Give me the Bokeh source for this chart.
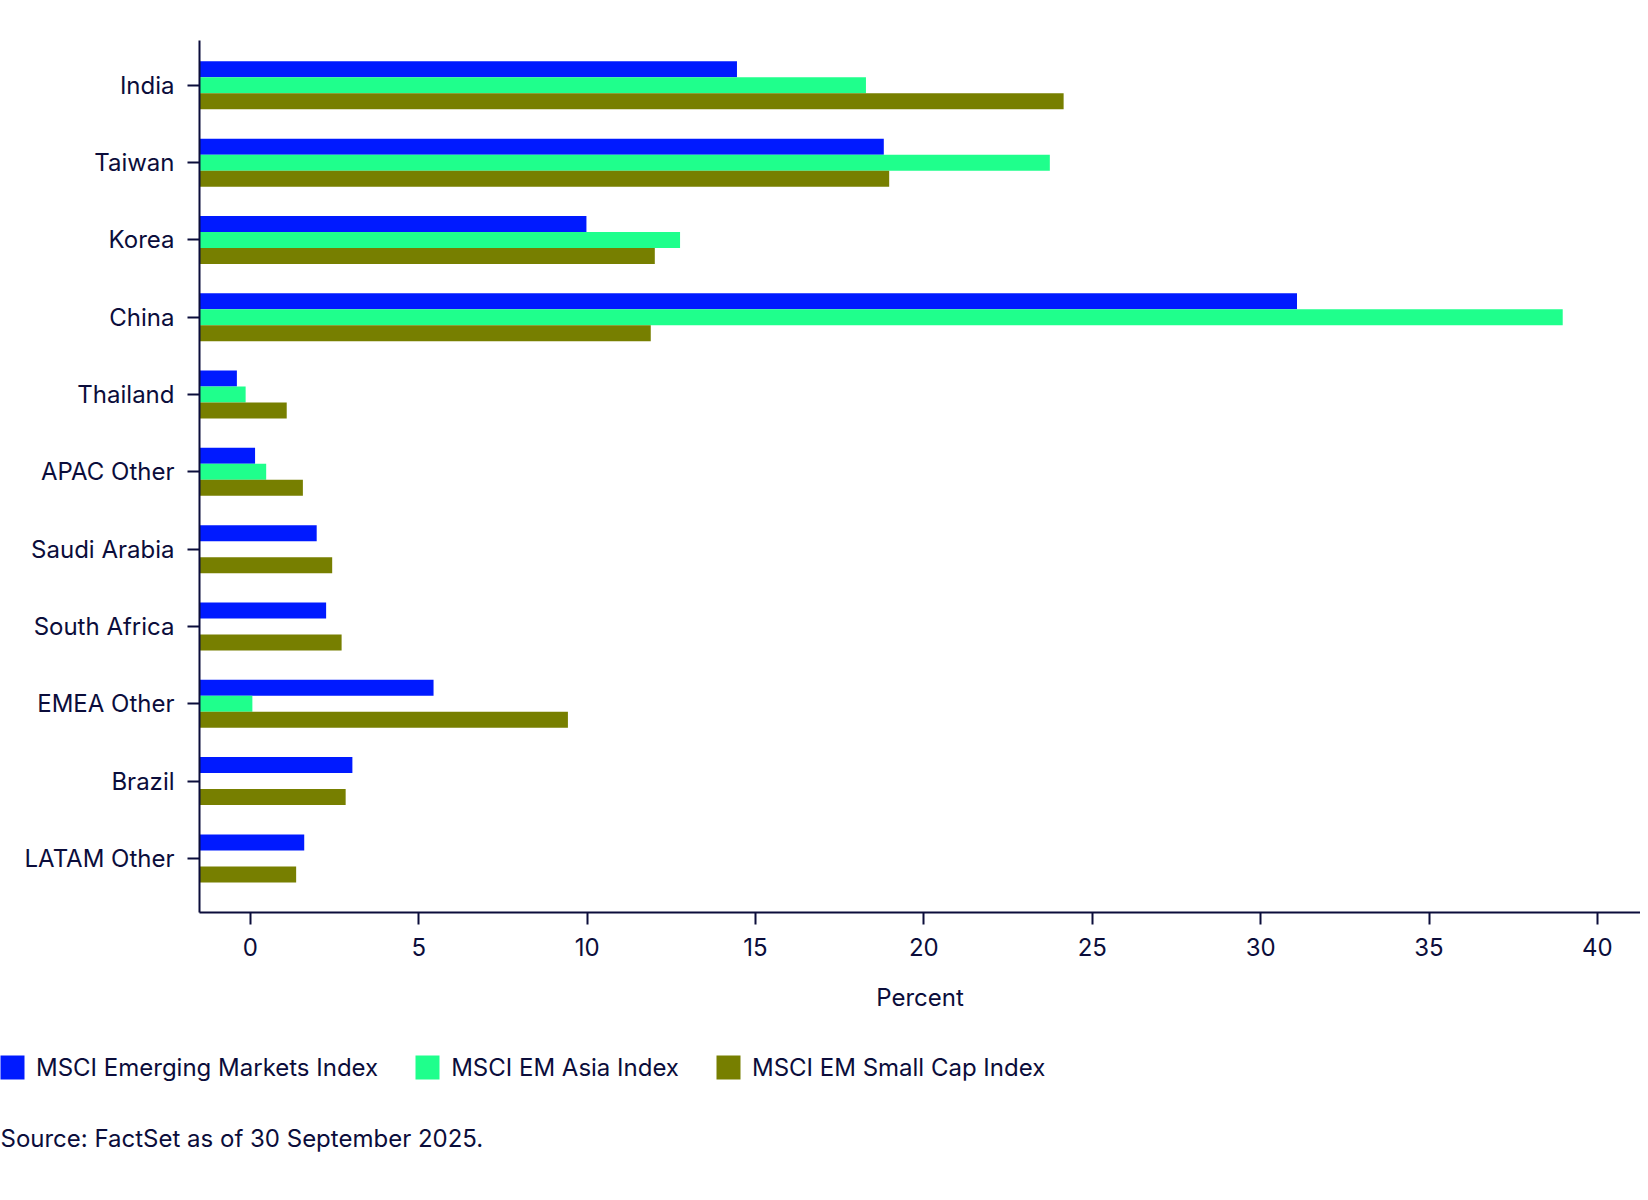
import math
from bokeh.plotting import figure
from bokeh.layouts import column
from bokeh.models import Range1d, FixedTicker, Legend, LegendItem, Label, ColumnDataSource
from bokeh.transform import dodge
from bokeh.embed import file_html
from bokeh.resources import INLINE

nan = float("nan")

categories = ["India", "Taiwan", "Korea", "China", "Thailand", "APAC Other",
              "Saudi Arabia", "South Africa", "EMEA Other", "Brazil", "LATAM Other"]
em_values = [14.45, 18.81, 9.98, 31.08, -0.40, 0.14, 1.97, 2.25, 5.44, 3.03, 1.60]
asia_values = [18.28, 23.74, 12.76, 38.97, -0.14, 0.47, nan, nan, 0.06, nan, nan]
smallcap_values = [24.15, 18.97, 12.01, 11.89, 1.08, 1.56, 2.43, 2.71, 9.43, 2.83, 1.36]
series_names = ["MSCI Emerging Markets Index", "MSCI EM Asia Index", "MSCI EM Small Cap Index"]
x_ticks = [0, 5, 10, 15, 20, 25, 30, 35, 40]
source_note = "Source: FactSet as of 30 September 2025."

TEXT = "#0b0d3b"
FONT = "Inter"
FS = "24px"
COLORS = ["#001aff", "#1fff8c", "#777f00"]
XMIN, XMAX = -1.51, 41.28

pos = list(range(len(categories)))
src = ColumnDataSource(dict(pos=pos, left=[XMIN] * len(pos), em=em_values,
                            asia=asia_values, sc=smallcap_values))
fields = ["em", "asia", "sc"]

p = figure(width=1640, height=1022, output_backend="svg", toolbar_location=None,
           x_range=Range1d(XMIN, XMAX), y_range=Range1d(10.70, -0.58),
           min_border_left=199, min_border_right=0, min_border_top=40, min_border_bottom=110)
p.outline_line_color = None
p.xgrid.visible = False
p.ygrid.visible = False
p.frame_align = False

bh = 0.207
for field, off, col in zip(fields, [-bh, 0.0, bh], COLORS):
    p.hbar(y=dodge("pos", off, range=p.y_range), left="left", right=field, height=bh,
           source=src, fill_color=col, line_color=None)

for ax in (p.xaxis[0], p.yaxis[0]):
    ax.axis_line_color = TEXT
    ax.axis_line_width = 2
    ax.major_tick_line_color = TEXT
    ax.major_tick_line_width = 2
    ax.major_tick_in = 0
    ax.major_tick_out = 12
    ax.minor_tick_line_color = None
    ax.major_label_text_font = FONT
    ax.major_label_text_font_size = FS
    ax.major_label_text_color = TEXT
    ax.major_label_standoff = 13

p.xaxis.ticker = FixedTicker(ticks=x_ticks)
p.xaxis.axis_label = "Percent"
p.xaxis.axis_label_text_font = FONT
p.xaxis.axis_label_text_font_size = FS
p.xaxis.axis_label_text_font_style = "normal"
p.xaxis.axis_label_text_color = TEXT
p.xaxis.axis_label_standoff = 24

p.yaxis.ticker = FixedTicker(ticks=pos)
p.yaxis.major_label_standoff = 13
p.yaxis.major_label_overrides = {i: c for i, c in enumerate(categories)}

# lower panel: legend + source note
H2 = 150
p2 = figure(width=1640, height=H2, output_backend="svg", toolbar_location=None,
            x_range=Range1d(1000, 1001), y_range=Range1d(1000, 1001),
            x_axis_location=None, y_axis_location=None,
            min_border=0, min_border_left=0, min_border_right=0, min_border_top=0, min_border_bottom=0)
p2.grid.visible = False
p2.outline_line_color = None
p2.frame_align = False
renderers = []
for field, col in zip(fields, COLORS):
    r = p2.hbar(y="pos", left="left", right=field, height=bh, source=src,
                fill_color=col, line_color=None)
    renderers.append(r)

legend = Legend(items=[LegendItem(label=n, renderers=[r]) for n, r in zip(series_names, renderers)],
                orientation="horizontal", location=(-3, H2 - 60))
legend.border_line_color = None
legend.background_fill_alpha = 0
legend.padding = 0
legend.margin = 0
legend.spacing = 34
legend.glyph_width = 30
legend.glyph_height = 30
legend.label_standoff = 9
legend.label_text_font = FONT
legend.label_text_font_size = FS
legend.label_text_color = TEXT
p2.add_layout(legend)

p2.add_layout(Label(x=0, y=H2 - 116, x_units="screen", y_units="screen", text=source_note,
                    text_font=FONT, text_font_size=FS, text_color=TEXT,
                    text_baseline="middle", text_align="left"))

open("out.html", "w").write(file_html(column(p, p2, spacing=0), INLINE))
